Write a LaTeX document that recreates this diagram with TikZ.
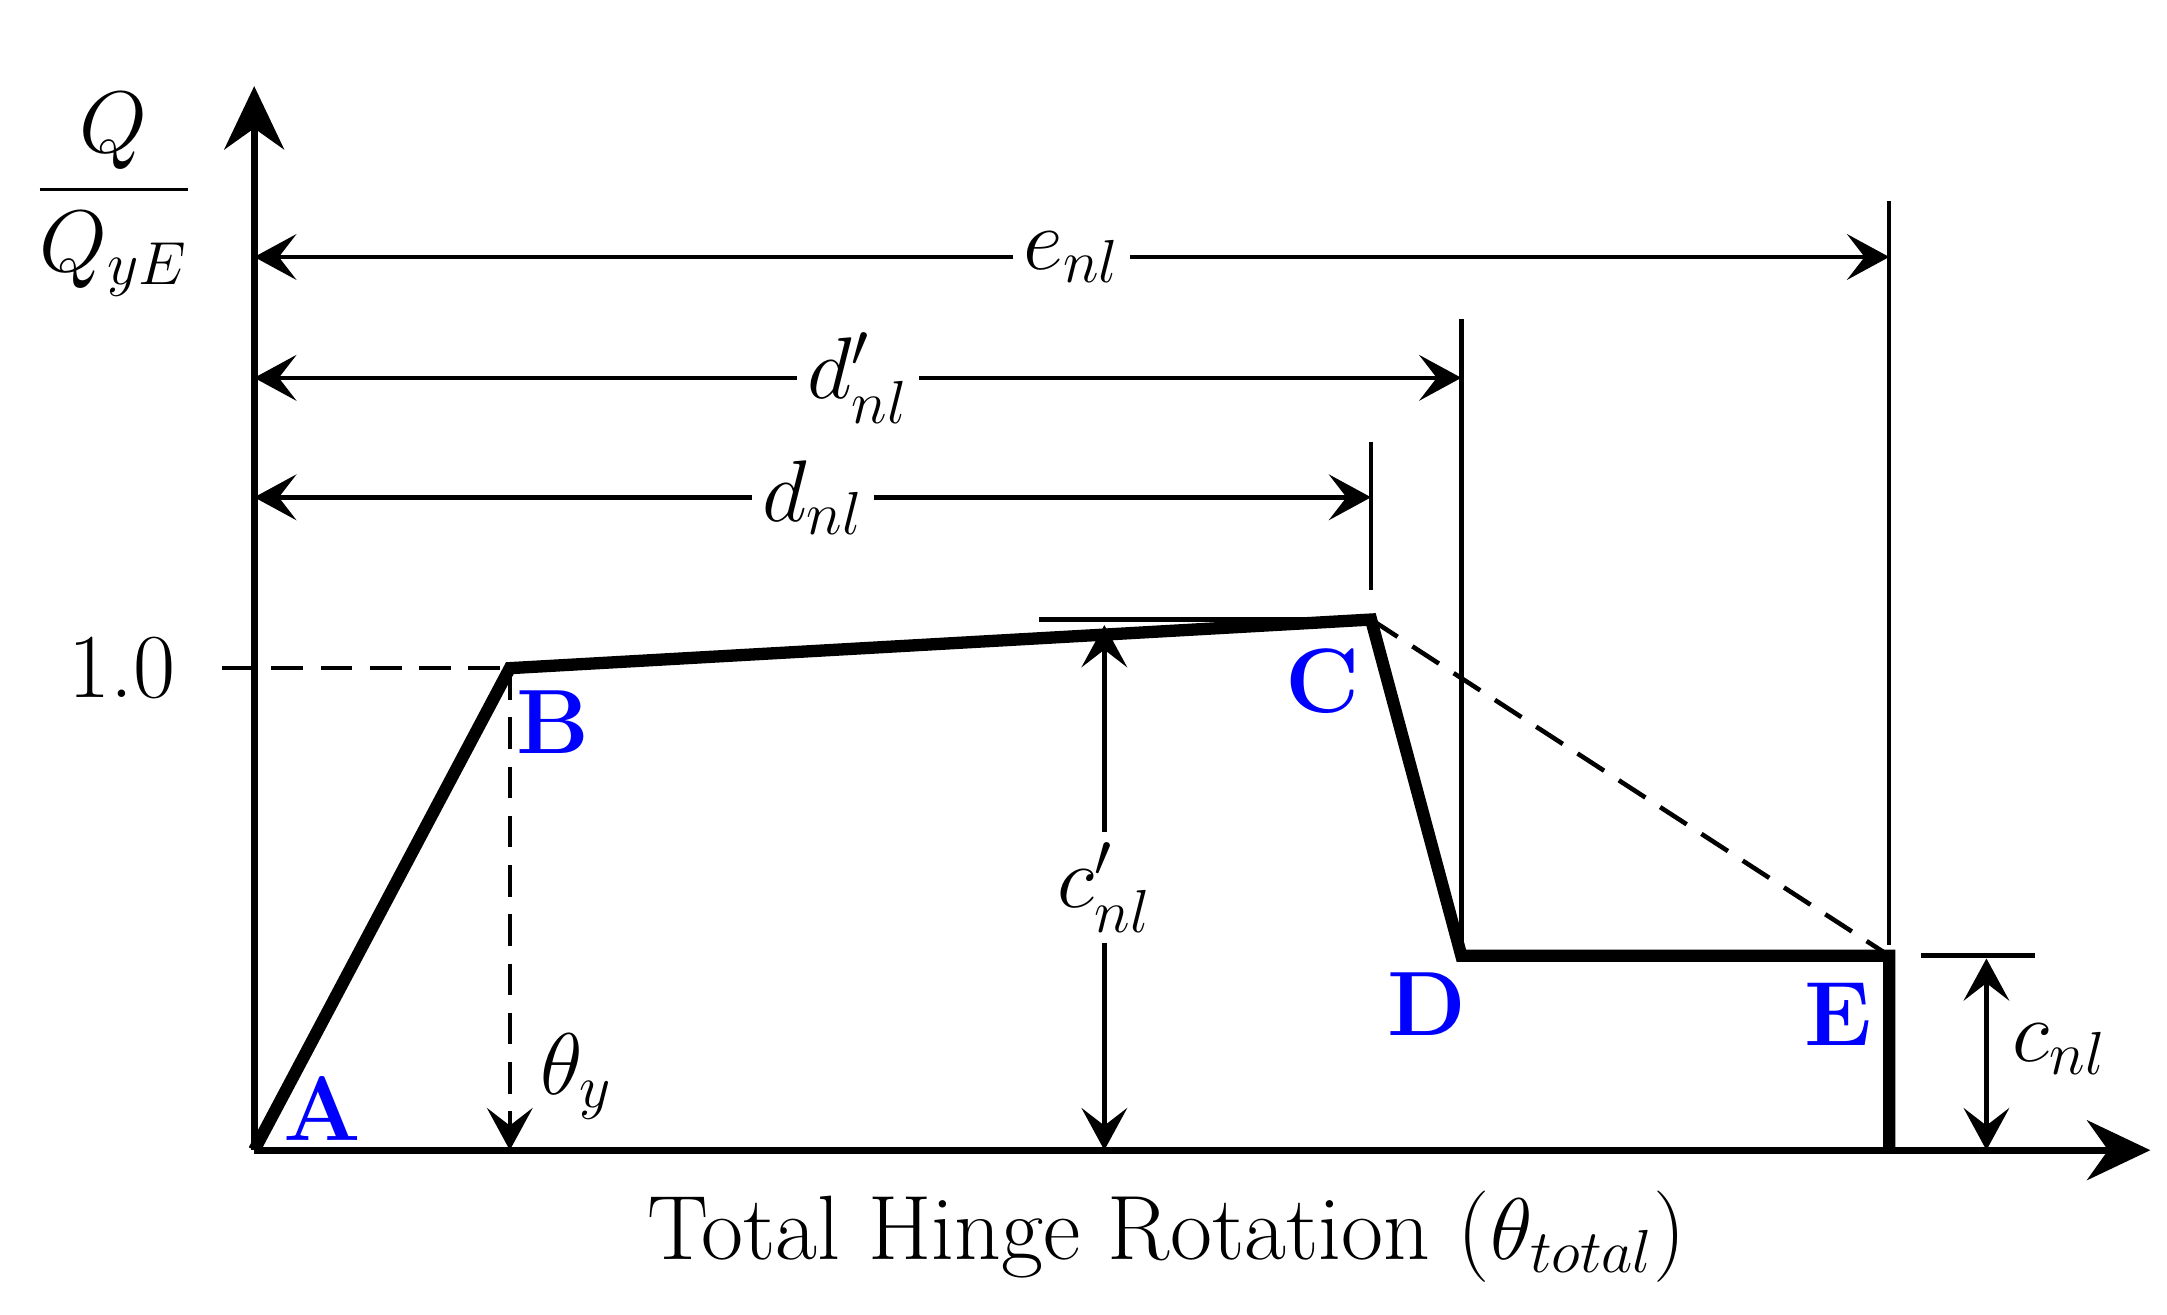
\documentclass[tikz,border=0pt]{standalone}
\usepackage{tikz, amsmath, amssymb}
\usetikzlibrary{arrows.meta}
\newcommand{\lblsize}{\fontsize{26}{30}\selectfont}
\tikzset{
  dim/.style={{Stealth[length=12pt,width=13pt,inset=5pt]}-{Stealth[length=12pt,width=13pt,inset=5pt]}, line width=1.3pt},
  thin line/.style={line width=1.3pt},
  guide/.style={thin line, dash pattern=on 9pt off 5pt},
  pt/.style={font=\bfseries\lblsize, text=blue},
  lbl/.style={font=\lblsize, fill=white, inner sep=3pt}
}
\begin{document}
\begin{tikzpicture}[x=0.01389cm, y=-0.01389cm]
\useasboundingbox (0,0) rectangle (1560,946);
					\coordinate (A) at (183,828);
					\coordinate (B) at (367,481);
					\coordinate (C) at (987,446);
					\coordinate (D) at (1052,688);
					\coordinate (E) at (1360,688);
					\coordinate (F) at (1360,828);
					\coordinate (Ytop) at (183,62);
					\coordinate (Xend) at (1548,828);

					% axes
					\draw[-{Stealth[length=18pt,width=17pt,inset=6pt]}, line width=2pt] (A) -- (Ytop);
					\draw[-{Stealth[length=18pt,width=17pt,inset=6pt]}, line width=2pt] (A) -- (Xend);

					% dashed guides
					\draw[guide] (160,481) -- (B);
					\draw[guide, -{Stealth[length=12pt,width=13pt,inset=5pt]}] (B) -- (367,828);
					\draw[guide] (C) -- (E);

					% backbone curve
					\draw[line width=3.5pt, line join=miter] (A) -- (B) -- (C) -- (D) -- (E) -- (F);

					% extension lines
					\draw[thin line] (987,318) -- (987,425);
					\draw[thin line] (1052,230) -- (1052,680);
					\draw[thin line] (1360,145) -- (1360,680);
					\draw[thin line] (748,446) -- (C);
					\draw[thin line] (1383,688) -- (1465,688);

					% dimensions
					\draw[dim] (183,185) -- node[lbl] {$e_{nl}$} (1360,185);
					\draw[dim] (183,272) -- node[lbl] {$d'_{nl}$} (1052,272);
					\draw[dim] (183,358) -- node[lbl] {$d_{nl}$} (987,358);
					\draw[dim] (795,450) -- node[lbl] {$c'_{nl}$} (795,828);
					\draw[dim] (1430,690) -- (1430,828);
					\node[font=\lblsize, anchor=west] (cnl) at (1440,755) {$c_{nl}$};

					% labels
					\node[font=\lblsize] (ylab) at (82,140) {$\dfrac{Q}{Q_{yE}}$};
					\node[font=\lblsize, anchor=east] (one) at (135,481) {1.0};
					\node[font=\lblsize] (thy) at (415,775) {$\theta_y$};
					\node[font=\lblsize] (xlab) at (840,890) {Total Hinge Rotation ($\theta_{total}$)};
					\node[pt] (lA) at (232,798) {A};
					\node[pt] (lB) at (398,520) {B};
					\node[pt] (lC) at (952,490) {C};
					\node[pt] (lD) at (1027,723) {D};
					\node[pt] (lE) at (1323,730) {E};
				\end{tikzpicture}
\end{document}
